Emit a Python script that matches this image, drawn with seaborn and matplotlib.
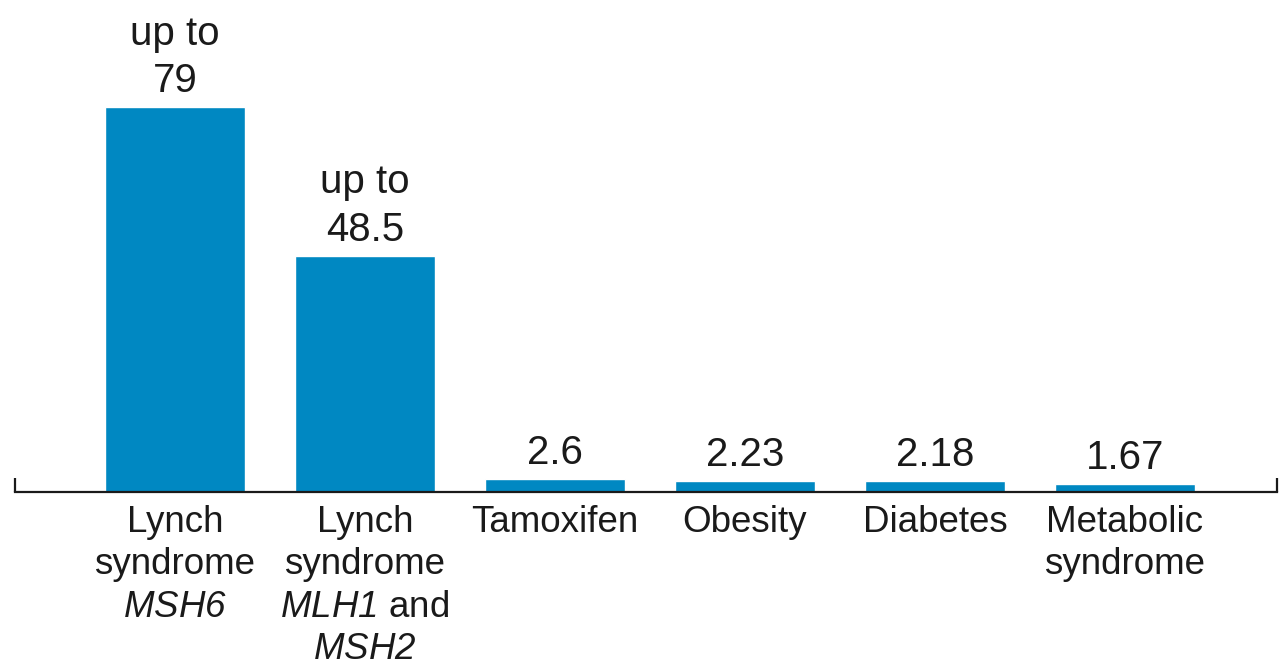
import matplotlib
matplotlib.use("Agg")
import matplotlib.pyplot as plt
import seaborn as sns
import pandas as pd

categories = [
    "Lynch\nsyndrome\n$MSH6$",
    "Lynch\nsyndrome\n$MLH1$ and\n$MSH2$",
    "Tamoxifen",
    "Obesity",
    "Diabetes",
    "Metabolic\nsyndrome",
]
relative_risk = [79, 48.5, 2.6, 2.23, 2.18, 1.67]
value_labels = ["up to\n79", "up to\n48.5", "2.6", "2.23", "2.18", "1.67"]

sns.set_theme(style="white")
plt.rcParams["font.family"] = ["Liberation Sans", "DejaVu Sans"]
# gene names are set in italic, digits included
plt.rcParams["mathtext.fontset"] = "custom"
plt.rcParams["mathtext.rm"] = "Liberation Sans:italic"
plt.rcParams["mathtext.it"] = "Liberation Sans:italic"

df = pd.DataFrame({"factor": categories, "risk": relative_risk})

fig = plt.figure(figsize=(12.86, 6.71), dpi=100)
ax = fig.add_axes([15 / 1286, (671 - 492) / 671, (1277 - 15) / 1286, 492 / 671])

sns.barplot(data=df, x="factor", y="risk", color="#0088c2", saturation=1,
            width=0.737, ax=ax)

ax.set_xlim(-0.842, 5.8)
ax.set_ylim(0, 101)

for c in ax.containers:
    ax.bar_label(c, labels=value_labels, padding=5, fontsize=29,
                 color="#1a1a1a", linespacing=1.32)

for s in ["top", "right", "left"]:
    ax.spines[s].set_visible(False)
ax.spines["bottom"].set_color("#1a1a1a")
ax.spines["bottom"].set_linewidth(1.6)

# upturned end caps on the baseline
for xa in (0, 1):
    ax.plot([xa, xa], [0, 0.028], transform=ax.transAxes, color="#1a1a1a",
            lw=1.6, clip_on=False, solid_capstyle="butt")

ax.set_yticks([])
ax.set_xlabel("")
ax.set_ylabel("")
ax.tick_params(axis="x", length=0, pad=9)
for t in ax.get_xticklabels():
    t.set_fontsize(26.5)
    t.set_color("#1a1a1a")
    t.set_linespacing(1.28)

fig.savefig("out.png", dpi=100)
